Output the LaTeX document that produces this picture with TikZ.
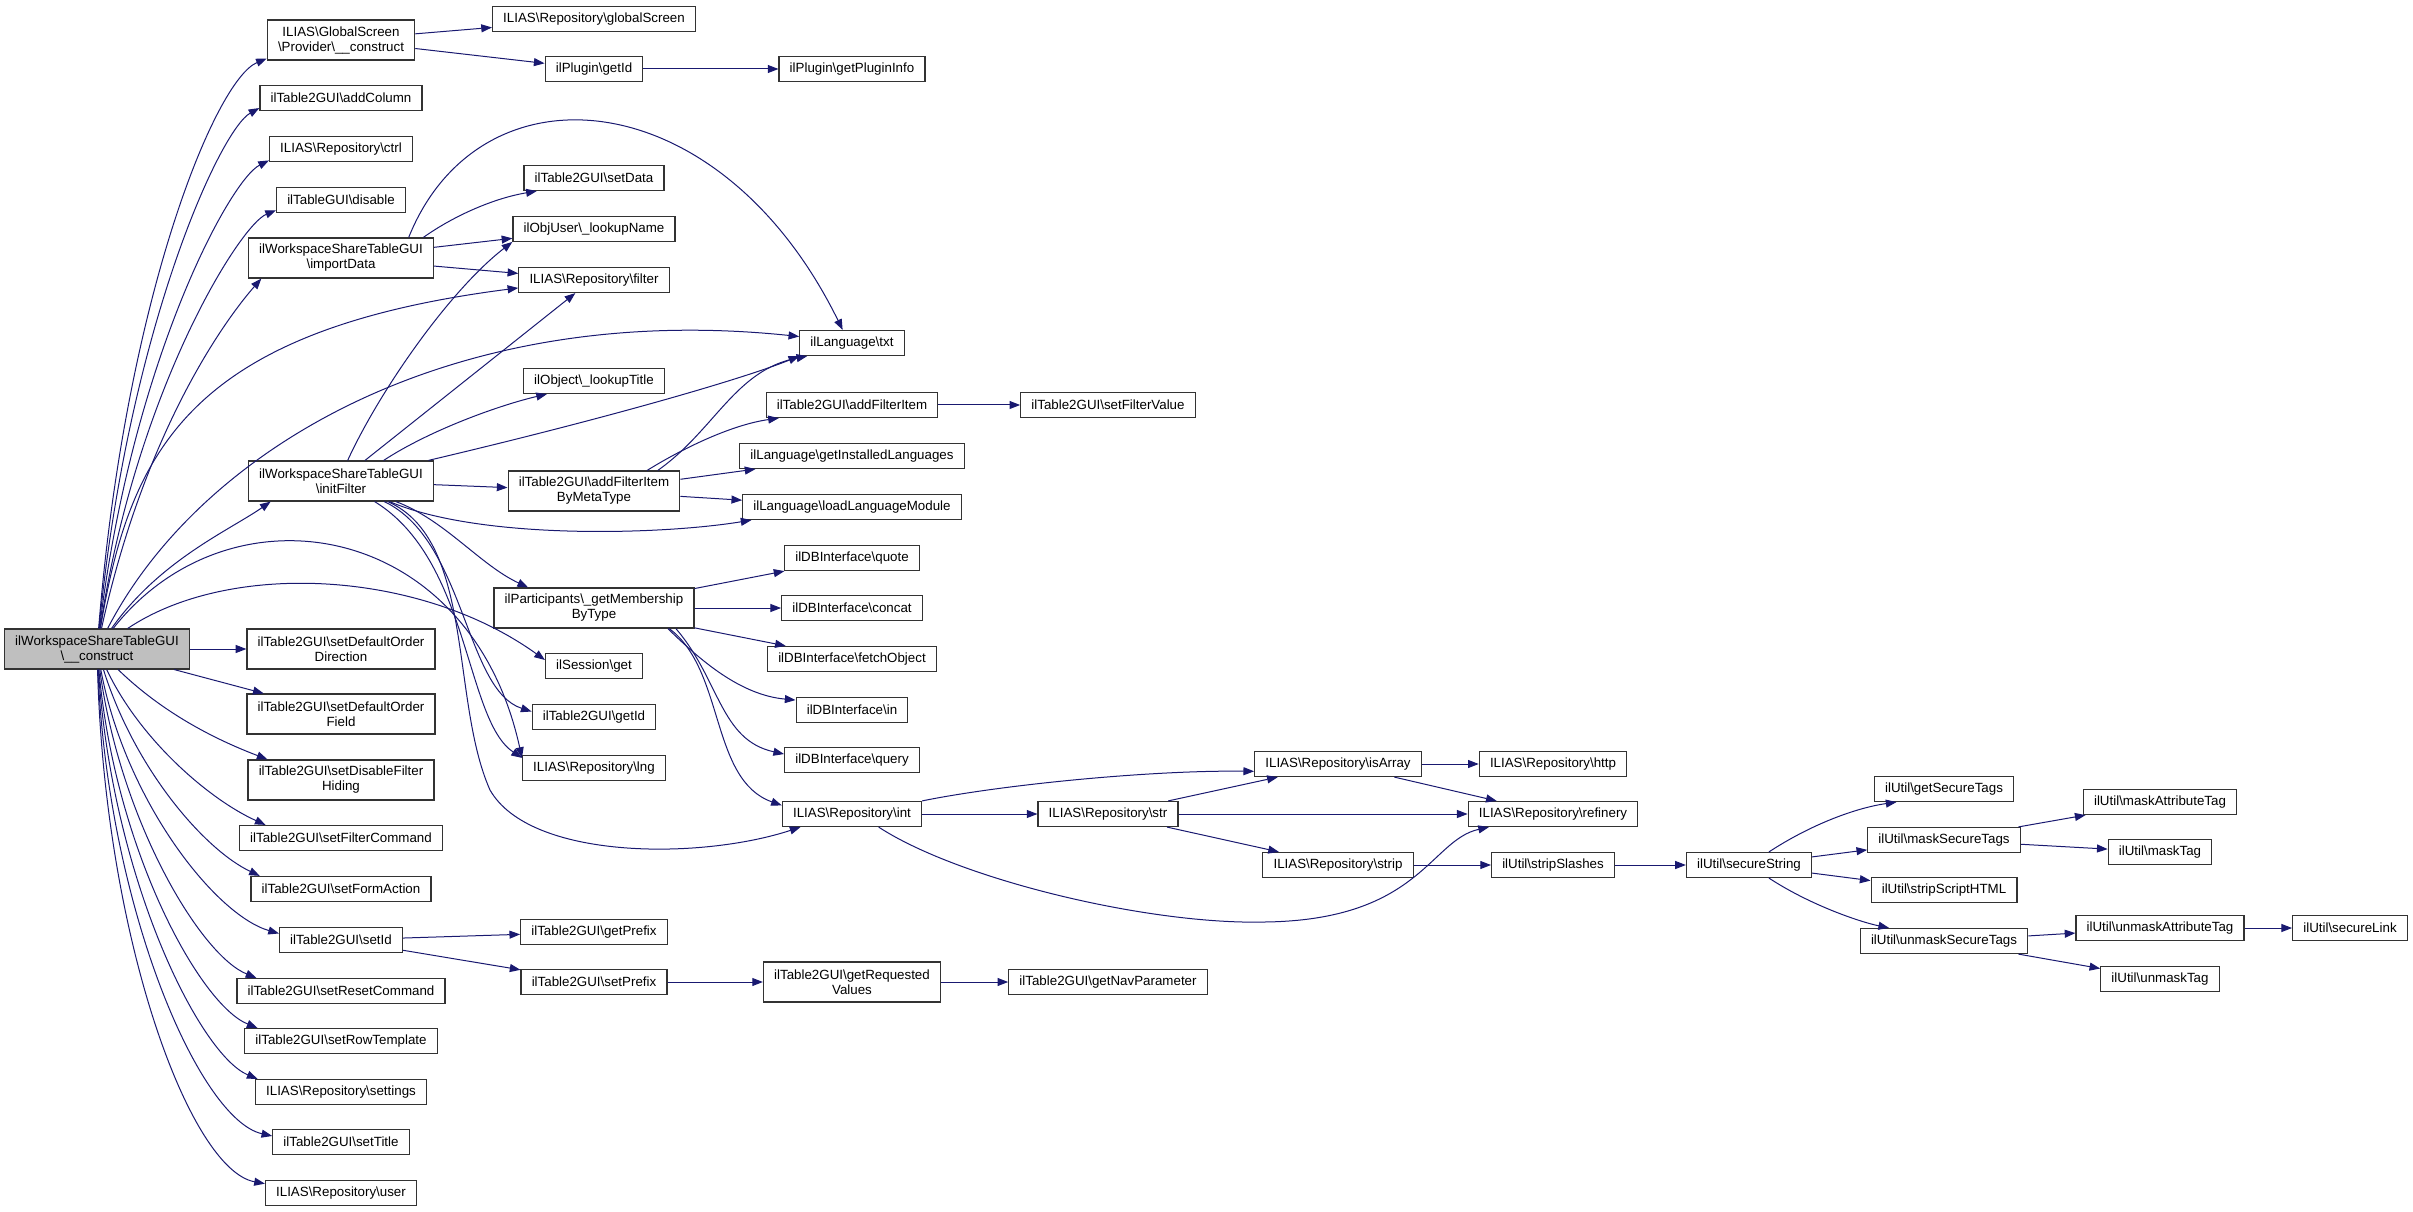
\documentclass[tikz,border=0pt]{standalone}
\usepackage{fontspec}
\setmainfont{Liberation Sans}
\usetikzlibrary{arrows.meta}
\definecolor{edgeblue}{HTML}{191970}
\definecolor{boxline}{HTML}{333333}
\definecolor{rootgray}{HTML}{BFBFBF}
\newcommand{\bsl}{\textbackslash}

\begin{document}
\begin{tikzpicture}[x=0.75pt, y=-0.75pt,
    fn/.style={draw=boxline, line width=0.9pt, fill=white, inner xsep=8pt, inner ysep=2pt,
        minimum height=18.75pt, font=\fontsize{10}{11.25}\selectfont, align=center},
    fntwo/.style={minimum height=30pt},
    call/.style={draw=edgeblue, line width=0.75pt, -{Triangle[length=8pt, width=6pt]}}]
    \useasboundingbox (0,0) rectangle (2413,1212);

    \begin{scope}[every node/.style={fn, fill=rootgray}]
        \node[fntwo] (root) at (97,649) {ilWorkspaceShareTableGUI\\\bsl\_\_construct};
    \end{scope}

    \begin{scope}[every node/.style={fn}]
        % first level
        \node[fntwo] (gsprov) at (341,40) {ILIAS\bsl GlobalScreen\\\bsl Provider\bsl\_\_construct};
        \node (addColumn) at (341,98) {ilTable2GUI\bsl addColumn};
        \node (ctrl) at (341,149) {ILIAS\bsl Repository\bsl ctrl};
        \node (disable) at (341,200) {ilTableGUI\bsl disable};
        \node[fntwo] (importData) at (341,258) {ilWorkspaceShareTableGUI\\\bsl importData};
        \node[fntwo] (initFilter) at (341,481) {ilWorkspaceShareTableGUI\\\bsl initFilter};
        \node[fntwo] (setDefOrderDir) at (341,649) {ilTable2GUI\bsl setDefaultOrder\\Direction};
        \node[fntwo] (setDefOrderField) at (341,714) {ilTable2GUI\bsl setDefaultOrder\\Field};
        \node[fntwo] (setDisableFilterHiding) at (341,780) {ilTable2GUI\bsl setDisableFilter\\Hiding};
        \node (setFilterCommand) at (341,838) {ilTable2GUI\bsl setFilterCommand};
        \node (setFormAction) at (341,889) {ilTable2GUI\bsl setFormAction};
        \node (setId) at (341,940) {ilTable2GUI\bsl setId};
        \node (setResetCommand) at (341,991) {ilTable2GUI\bsl setResetCommand};
        \node (setRowTemplate) at (341,1041) {ilTable2GUI\bsl setRowTemplate};
        \node (settings) at (341,1092) {ILIAS\bsl Repository\bsl settings};
        \node (setTitle) at (341,1142) {ilTable2GUI\bsl setTitle};
        \node (user) at (341,1193) {ILIAS\bsl Repository\bsl user};

        % second level
        \node (globalScreen) at (594,19) {ILIAS\bsl Repository\bsl globalScreen};
        \node (pluginGetId) at (594,69) {ilPlugin\bsl getId};
        \node (setData) at (594,178) {ilTable2GUI\bsl setData};
        \node (lookupName) at (594,229) {ilObjUser\bsl\_lookupName};
        \node (filter) at (594,280) {ILIAS\bsl Repository\bsl filter};
        \node (lookupTitle) at (594,381) {ilObject\bsl\_lookupTitle};
        \node[fntwo] (addFilterItemByMetaType) at (594,491) {ilTable2GUI\bsl addFilterItem\\ByMetaType};
        \node[fntwo] (getMembershipByType) at (594,608) {ilParticipants\bsl\_getMembership\\ByType};
        \node (sessionGet) at (594,666) {ilSession\bsl get};
        \node (tableGetId) at (594,717) {ilTable2GUI\bsl getId};
        \node (lng) at (594,768) {ILIAS\bsl Repository\bsl lng};
        \node (getPrefix) at (594,932) {ilTable2GUI\bsl getPrefix};
        \node (setPrefix) at (594,982) {ilTable2GUI\bsl setPrefix};

        % third level
        \node (getPluginInfo) at (852,69) {ilPlugin\bsl getPluginInfo};
        \node (txt) at (852,343) {ilLanguage\bsl txt};
        \node (addFilterItem) at (852,405) {ilTable2GUI\bsl addFilterItem};
        \node (getInstalledLanguages) at (852,456) {ilLanguage\bsl getInstalledLanguages};
        \node (loadLanguageModule) at (852,507) {ilLanguage\bsl loadLanguageModule};
        \node (dbQuote) at (852,558) {ilDBInterface\bsl quote};
        \node (dbConcat) at (852,608) {ilDBInterface\bsl concat};
        \node (dbFetchObject) at (852,659) {ilDBInterface\bsl fetchObject};
        \node (dbIn) at (852,710) {ilDBInterface\bsl in};
        \node (dbQuery) at (852,760) {ilDBInterface\bsl query};
        \node (repoInt) at (852,814) {ILIAS\bsl Repository\bsl int};
        \node[fntwo] (getRequestedValues) at (852,982) {ilTable2GUI\bsl getRequested\\Values};

        % further levels
        \node (setFilterValue) at (1108,405) {ilTable2GUI\bsl setFilterValue};
        \node (repoStr) at (1108,814) {ILIAS\bsl Repository\bsl str};
        \node (getNavParameter) at (1108,982) {ilTable2GUI\bsl getNavParameter};
        \node (isArray) at (1338,764) {ILIAS\bsl Repository\bsl isArray};
        \node (repoStrip) at (1338,865) {ILIAS\bsl Repository\bsl strip};
        \node (http) at (1553,764) {ILIAS\bsl Repository\bsl http};
        \node (refinery) at (1553,814) {ILIAS\bsl Repository\bsl refinery};
        \node (stripSlashes) at (1553,865) {ilUtil\bsl stripSlashes};
        \node (secureString) at (1749,865) {ilUtil\bsl secureString};
        \node (getSecureTags) at (1944,789) {ilUtil\bsl getSecureTags};
        \node (maskSecureTags) at (1944,840) {ilUtil\bsl maskSecureTags};
        \node (stripScriptHTML) at (1944,890) {ilUtil\bsl stripScriptHTML};
        \node (unmaskSecureTags) at (1944,941) {ilUtil\bsl unmaskSecureTags};
        \node (maskAttributeTag) at (2160,802) {ilUtil\bsl maskAttributeTag};
        \node (maskTag) at (2160,852) {ilUtil\bsl maskTag};
        \node (unmaskAttributeTag) at (2160,928) {ilUtil\bsl unmaskAttributeTag};
        \node (unmaskTag) at (2160,979) {ilUtil\bsl unmaskTag};
        \node (secureLink) at (2350,928) {ilUtil\bsl secureLink};
    \end{scope}

    % calls of the constructor
    \draw[call] (root) .. controls (125,300) and (215,80) .. (gsprov.194);
    \draw[call] (root) .. controls (128,330) and (220,130) .. (addColumn.187);
    \draw[call] (root) .. controls (132,360) and (230,180) .. (ctrl.189);
    \draw[call] (root) .. controls (136,390) and (240,225) .. (disable.189);
    \draw[call] (root) .. controls (145,430) and (225,320) .. ([xshift=10pt]importData.south west);
    \draw[call] (root) .. controls (130,450) and (190,330) .. (filter.186);
    \draw[call] (root) .. controls (200,450) and (450,300) .. (txt.173);
    \draw[call] (root) .. controls (160,560) and (230,530) .. ([xshift=17pt]initFilter.south west);
    \draw[call] (root) .. controls (230,480) and (470,520) .. (lng.172);
    \draw[call] (root) .. controls (230,560) and (420,570) .. (sessionGet.173);
    \draw[call] (root) -- (setDefOrderDir);
    \draw[call] (root) -- (setDefOrderField);
    \draw[call] (root) .. controls (170,720) and (230,745) .. ([xshift=15pt]setDisableFilterHiding.north west);
    \draw[call] (root) .. controls (140,740) and (210,800) .. ([xshift=20pt]setFilterCommand.north west);
    \draw[call] (root) .. controls (135,770) and (205,850) .. ([xshift=7pt]setFormAction.north west);
    \draw[call] (root) .. controls (125,800) and (215,915) .. (setId.174);
    \draw[call] (root) .. controls (120,820) and (200,955) .. ([xshift=15pt]setResetCommand.north west);
    \draw[call] (root) .. controls (115,850) and (200,1005) .. ([xshift=10pt]setRowTemplate.north west);
    \draw[call] (root) .. controls (112,880) and (200,1055) .. ([xshift=2pt]settings.north west);
    \draw[call] (root) .. controls (108,910) and (200,1120) .. (setTitle.175);
    \draw[call] (root) .. controls (105,940) and (190,1170) .. (user.173);

    \draw[call] (gsprov) -- (globalScreen);
    \draw[call] (gsprov) -- (pluginGetId);
    \draw[call] (pluginGetId) -- (getPluginInfo);

    \draw[call] ([xshift=-8pt]importData.north east) .. controls (455,215) and (495,198) .. ([xshift=10pt]setData.south west);
    \draw[call] ([xshift=-19pt]importData.north east) .. controls (480,60) and (720,80) .. ([xshift=-7pt]txt.north);
    \draw[call] (importData) -- (lookupName);
    \draw[call] (importData) -- (filter);

    % initFilter
    \draw[call] ([xshift=5pt]initFilter.north) .. controls (380,390) and (450,290) .. (lookupName.189);
    \draw[call] ([xshift=18pt]initFilter.north) -- ([xshift=-14pt]filter.south);
    \draw[call] ([xshift=32pt]initFilter.north) .. controls (430,430) and (500,405) .. ([xshift=18pt]lookupTitle.south west);
    \draw[call] (initFilter) .. controls (600,420) and (740,380) .. (txt.south west);
    \draw[call] (initFilter) -- (addFilterItemByMetaType);
    \draw[call] (initFilter) .. controls (480,540) and (660,535) .. ([xshift=7pt]loadLanguageModule.south west);
    \draw[call] (initFilter) .. controls (445,520) and (480,565) .. ([xshift=26pt]getMembershipByType.north west);
    \draw[call] (initFilter) .. controls (465,540) and (465,690) .. (tableGetId.175);
    \draw[call] (initFilter) .. controls (470,560) and (465,720) .. (lng.172);
    \draw[call] (initFilter) .. controls (475,540) and (450,700) .. (490,790)
        .. controls (530,860) and (700,860) .. ([xshift=14pt]repoInt.south west);

    \draw[call] ([xshift=-25pt]addFilterItemByMetaType.north east) .. controls (680,450) and (730,425) .. ([xshift=10pt]addFilterItem.south west);
    \draw[call] ([xshift=-17pt]addFilterItemByMetaType.north east) .. controls (715,430) and (735,370) .. ([xshift=6pt]txt.south west);
    \draw[call] (addFilterItemByMetaType) -- (getInstalledLanguages);
    \draw[call] (addFilterItemByMetaType) -- (loadLanguageModule);
    \draw[call] (addFilterItem) -- (setFilterValue);

    % membership
    \draw[call] (getMembershipByType) -- (dbQuote);
    \draw[call] (getMembershipByType) -- (dbConcat);
    \draw[call] (getMembershipByType) -- (dbFetchObject);
    \draw[call] ([xshift=-20pt]getMembershipByType.south east) .. controls (700,660) and (740,695) .. (dbIn.170);
    \draw[call] ([xshift=-14pt]getMembershipByType.south east) .. controls (720,680) and (720,740) .. (dbQuery.175);
    \draw[call] ([xshift=-19pt]getMembershipByType.south east) .. controls (725,670) and (710,780) .. (repoInt.173);

    % repository
    \draw[call] (repoInt) -- (repoStr);
    \draw[call] (repoInt.north east) .. controls (1000,785) and (1150,770) .. (isArray.185);
    \draw[call] ([xshift=20pt]repoInt.south) .. controls (960,880) and (1150,925) .. (1265,922)
        .. controls (1420,920) and (1430,840) .. ([xshift=16pt]refinery.south west);
    \draw[call] (repoStr) -- (isArray);
    \draw[call] (repoStr) -- (refinery);
    \draw[call] (repoStr) -- (repoStrip);
    \draw[call] (isArray) -- (http);
    \draw[call] (isArray) -- (refinery);
    \draw[call] (repoStrip) -- (stripSlashes);
    \draw[call] (stripSlashes) -- (secureString);

    % ilUtil
    \draw[call] (secureString) .. controls (1810,825) and (1855,808) .. ([xshift=17pt]getSecureTags.south west);
    \draw[call] (secureString) -- (maskSecureTags);
    \draw[call] (secureString) -- (stripScriptHTML);
    \draw[call] (secureString) .. controls (1810,905) and (1860,922) .. ([xshift=22pt]unmaskSecureTags.north west);
    \draw[call] (maskSecureTags) -- (maskAttributeTag);
    \draw[call] (maskSecureTags) -- (maskTag);
    \draw[call] (unmaskSecureTags) -- (unmaskAttributeTag);
    \draw[call] (unmaskSecureTags) -- (unmaskTag);
    \draw[call] (unmaskAttributeTag) -- (secureLink);

    % prefix chain
    \draw[call] (setId) -- (getPrefix);
    \draw[call] (setId) -- (setPrefix);
    \draw[call] (setPrefix) -- (getRequestedValues);
    \draw[call] (getRequestedValues) -- (getNavParameter);
\end{tikzpicture}
\end{document}
